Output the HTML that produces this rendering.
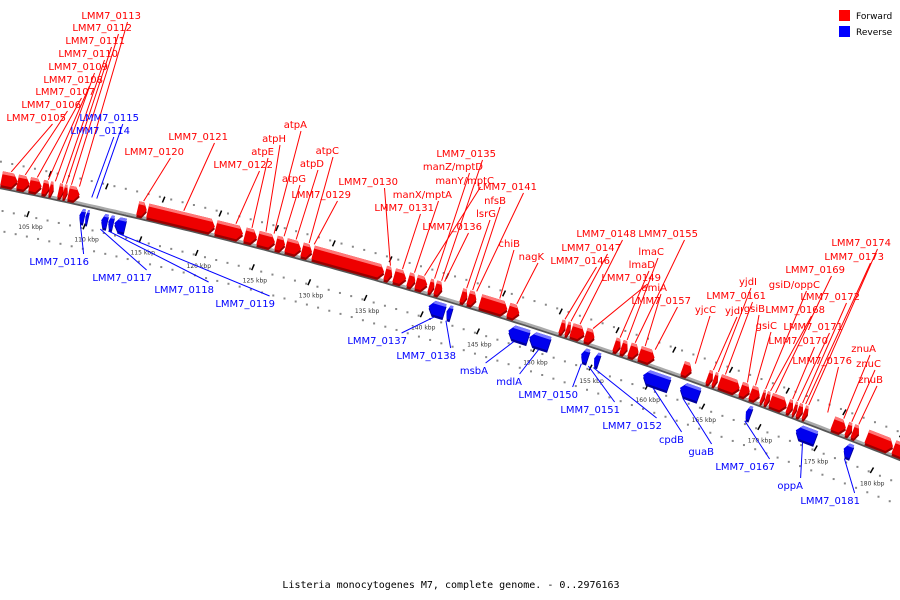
<!DOCTYPE html>
<html><head><meta charset="utf-8"><style>
html,body{margin:0;padding:0;background:#fff;width:900px;height:600px;overflow:hidden}
svg{display:block;font-family:"DejaVu Sans","Liberation Sans",sans-serif}
</style></head><body>
<svg id="chart" width="900" height="600" viewBox="0 0 900 600">
<g>
<rect x="839" y="10" width="11" height="11" fill="#ff0000"/>
<text x="856" y="19" font-size="9">Forward</text>
<rect x="839" y="26" width="11" height="11" fill="#0000ff"/>
<text x="856" y="35" font-size="9">Reverse</text>
</g>
<text x="451" y="588" font-size="10" text-anchor="middle" font-family="DejaVu Sans Mono, Liberation Mono, monospace">Listeria monocytogenes M7, complete genome. - 0..2976163</text>
</svg>
<script>
// gene positions in x units along the axis
const fwdStarts=[0,16,28,41,48,57,62,67,136,146,214,243,256,274,284,300,311,383,392,406,414,427,433,459,466,478,506,558,564,569,583,612,619,627,637,680,705,711,717,738,748,759,763,768,785,791,795,801,830,844,850,864,891];
const fwdEnds=[16,28,40,48,52,62,66,78,145,213,241,255,273,283,299,310,382,390,404,413,425,432,440,465,474,505,517,563,568,582,592,618,625,636,652,689,710,715,737,747,757,762,767,784,790,794,800,805,843,849,856,890,905];
const revStarts=[82,88,104,111,117,432,450,512,533,585,598,647,684,750,800,848];
const revEnds=[87,91,110,116,128,448,455,532,553,592,603,673,703,755,820,856];
const tickKbp=[105,110,115,120,125,130,135,140,145,150,155,160,165,170,175,180];
const fwdLabels=[["LMM7_0113",141,19,76],["LMM7_0112",132,31,68],["LMM7_0111",125,44,63],["LMM7_0110",118,57,59],["LMM7_0109",108,70,52],["LMM7_0108",103,83,45],["LMM7_0107",95,95,34],["LMM7_0106",81,108,22],["LMM7_0105",66,121,8],
["LMM7_0121",228,140,180],["LMM7_0120",184,155,140],["atpA",307,128,270],["atpH",286,142,262],["atpE",274,155,248],["LMM7_0122",273,168,232],["atpC",339,154,305],["atpD",324,167,292],["atpG",306,182,280],["LMM7_0129",351,198,310],["LMM7_0130",398,185,386],
["LMM7_0135",496,157,437],["manZ/mptD",483,170,430],["manY/mptC",494,184,420],["manX/mptA",452,198,410],["LMM7_0131",434,211,398],["LMM7_0141",537,190,472],["nfsB",506,204,468],["lsrG",496,217,462],["LMM7_0136",482,230,440],["chiB",520,247,495],["nagK",544,260,512],
["LMM7_0148",636,237,575],["LMM7_0155",698,237,630],["LMM7_0147",621,251,566],["lmaC",664,255,622],["LMM7_0146",610,264,560],["lmaD",655,268,615],["LMM7_0149",661,281,588],["amiA",667,291,640],["LMM7_0157",691,304,650],
["yjdI",757,285,713],["LMM7_0161",766,299,720],["gsiD/oppC",820,288,760],["LMM7_0169",845,273,770],["LMM7_0174",891,246,803],["LMM7_0173",884,260,800],["yjdI",743,314,708],["gsiB",765,312,742],["LMM7_0168",825,313,765],["LMM7_0172",860,300,797],["yjcC",716,313,690],["gsiC",777,329,750],["LMM7_0171",843,330,792],["LMM7_0170",828,344,787],["LMM7_0176",852,364,822],["znuA",876,352,838],["znuC",881,367,846],["znuB",883,383,853]];
const revLabels=[["LMM7_0115",139,121,95,1],["LMM7_0114",130,134,90,1],["LMM7_0116",89,265,85,0],["LMM7_0117",152,281,105,0],["LMM7_0118",214,293,113,0],["LMM7_0119",275,307,122,0],["LMM7_0137",407,344,440,0],["LMM7_0138",456,359,452,0],["msbA",488,374,520,0],["mdlA",522,385,545,0],["LMM7_0150",578,398,588,0],["LMM7_0151",620,413,595,0],["LMM7_0152",662,429,600,0],["cpdB",684,443,660,0],["guaB",714,455,690,0],["LMM7_0167",775,470,752,0],["oppA",803,489,810,0],["LMM7_0181",860,504,852,0]];

const NS="http://www.w3.org/2000/svg";
const svg=document.getElementById('chart');
const A=0.2044,B=1.086e-4,Y0=186;
function kx(k){return 30+(k-105)*11.3;}
function P(x,d){const s=A+2*B*x;const L=Math.sqrt(1+s*s);return [x-s*d/L,Y0+A*x+B*x*x+d/L];}
function el(t,at,parent){const e=document.createElementNS(NS,t);for(const k in at)e.setAttribute(k,at[k]);(parent||svg).appendChild(e);return e;}
function poly(pts){return pts.map(p=>p[0].toFixed(1)+','+p[1].toFixed(1)).join(' ');}
const gAxis=el('g',{});


for(let k=100;k<=185;k+=1){const x=kx(k);if(x<-5||x>905)continue;
 for(const d of [-24,24,44]){const p=P(x+(d>30?6:0),d);const c=el('rect',{x:p[0]-1,y:p[1]-1,width:2,height:2,fill:'#888'},gAxis);
 
 }}
const ax=[],ax2=[];for(let x=-5;x<=905;x+=5){ax.push(P(x,0));ax2.push(P(x,2));}
const l2=el('polyline',{points:poly(ax2),fill:'none',stroke:'#555',"stroke-width":2},gAxis);


const l1=el('polyline',{points:poly(ax),fill:'none',stroke:'#aaa',"stroke-width":2.5},gAxis);


tickKbp.forEach(k=>{const x=kx(k);
 for(const d of [-22,22]){const a=P(x+(d<0?15:2),d-3),b=P(x+(d<0?15:2),d+3);const t=el('line',{x1:a[0]+1,y1:a[1],x2:b[0],y2:b[1],stroke:'#000',"stroke-width":1.5},gAxis);
 
 }
 const p=P(x+8,36);const tx=el('text',{x:p[0],y:p[1],"font-size":6,"text-anchor":"middle",fill:'#333'},gAxis);tx.textContent=k+' kbp';
 
 });
function gene(x0,x1,fwd,i){
 const g=el('g',{});
 
 
 const dt=fwd?-15:5,db=fwd?-1:19,dm=(dt+db)/2;const len=x1-x0;const hd=Math.min(5,len*0.45);
 let body;
 if(fwd) body=[P(x0,dt),P(x1-hd,dt),P(x1,dm),P(x1-hd,db),P(x0,db)];
 else body=[P(x0,dm),P(x0+hd,dt),P(x1,dt),P(x1,db),P(x0+hd,db)];
 const col=fwd?'#ee0000':'#0000ee',dark=fwd?'#990000':'#000099',light=fwd?'#ff7777':'#7777ff';
 const sh=body.map(p=>[p[0],p[1]+2.5]);
 el('polygon',{points:poly(sh),fill:dark},g);
 el('polygon',{points:poly(body),fill:col},g);
 const top=fwd?[P(x0,dt),P(x1-hd,dt),P(x1-hd*0.7,dt+3),P(x0,dt+3)]:[P(x0+hd,dt),P(x1,dt),P(x1,dt+3),P(x0+hd*0.7,dt+3)];
 el('polygon',{points:poly(top),fill:light},g);
}
fwdStarts.forEach((s,i)=>gene(s,fwdEnds[i],true,i));
revStarts.forEach((s,i)=>gene(s,revEnds[i],false,i));
fwdLabels.forEach(L=>{const [t,x,y,tg]=L;const w=t.length*6;const p=P(tg,-16);
 const ln=el('line',{x1:x-w*0.25,y1:y+3,x2:p[0],y2:p[1],stroke:'#f00',"stroke-width":1});
 
 
 const tx=el('text',{x:x,y:y,"font-size":10,"text-anchor":"end",fill:'#f00'});tx.textContent=t;
 
 });
revLabels.forEach(L=>{const [t,x,y,tg,up]=L;const w=t.length*6;const p=P(tg,up?-8:21);
 const sx=up?x-w*0.3:x-w*0.1, sy=up?y+3:y-11;
 const ln=el('line',{x1:sx,y1:sy,x2:p[0],y2:p[1],stroke:'#00f',"stroke-width":1});
 
 
 const tx=el('text',{x:x,y:y,"font-size":10,"text-anchor":"end",fill:'#00f'});tx.textContent=t;
 
 });
</script>
</body></html>
